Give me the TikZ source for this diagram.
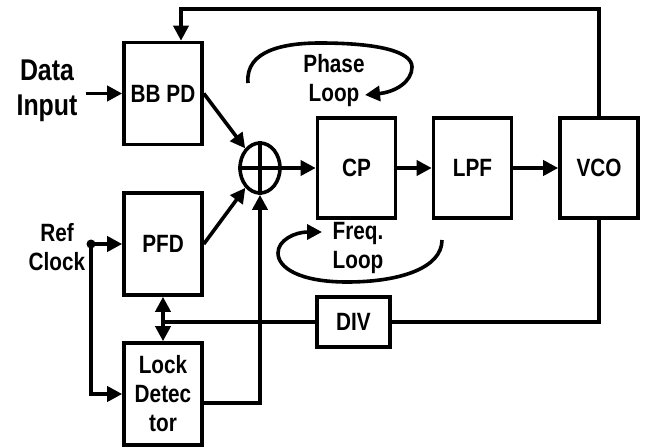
\documentclass[tikz,border=0pt]{standalone}
\usepackage{fontspec}
\setmainfont{Liberation Sans}[FakeStretch=0.83]
\usetikzlibrary{arrows.meta,positioning,shapes.geometric}

\begin{document}
\begin{tikzpicture}[x=1pt,y=-1pt,line width=3.6pt,
  every node/.style={font=\bfseries\fontsize{25}{29}\selectfont,align=center},
  blk/.style={draw,rectangle,minimum width=78pt,minimum height=102pt,inner sep=0pt},
  arr/.style={-{Triangle[length=15pt,width=15pt]}}]
  \useasboundingbox (0,0) rectangle (646,447);
  % blocks
  \node[blk] (bbpd) at (163,93.5) {BB PD};
  \node[blk] (pfd) at (163,244) {PFD};
  \node[blk] (lock) at (163,394) {Lock\\Detec\\tor};
  \node[blk,minimum height=100pt] (cp) at (356.5,168) {CP};
  \node[blk,minimum height=100pt] (lpf) at (472.5,168) {LPF};
  \node[blk,minimum height=100pt] (vco) at (599,168) {VCO};
  \node[blk,minimum width=73pt,minimum height=50pt] (div) at (353.5,322) {DIV};
  \node[draw,ellipse,minimum width=40pt,minimum height=50pt,inner sep=0pt] (sum) at (260,168) {};
  \draw (sum.north) -- (sum.south);
  \draw (sum.west) -- (sum.east);
  % inputs
  \node[font=\bfseries\fontsize{30}{35}\selectfont] (data) at (47,91) {Data\\Input};
  \node (ref) at (57,247) {Ref\\Clock};
  \coordinate (refdot) at (91,244);
  \fill (refdot) circle (4.5pt);
  \draw[arr] ([xshift=3pt]data.east |- bbpd.west) -- (bbpd.west);
  \draw[arr] (refdot) -- (pfd.west);
  \draw[arr] (refdot) |- (lock.west);
  % forward path
  \draw[arr] (bbpd.east) -- (sum);
  \draw[arr] (pfd.east) -- (sum);
  \draw[arr] ([yshift=-9pt]lock.east) -| (sum.south);
  \draw[arr] (sum) -- (cp);
  \draw[arr] (cp) -- (lpf);
  \draw[arr] (lpf) -- (vco);
  % feedback
  \draw[arr] (vco.north) -- ++(0,-107) -| ([xshift=18pt]bbpd.north);
  \coordinate (jn) at (pfd.south |- div.west);
  \draw (div.east) -| (vco.south);
  \draw (div.west) -- (jn);
  \draw[arr] (jn) -- (pfd.south);
  \draw[arr] (jn) -- (lock.north);
  % loops
  \node (ph) at (334,81) {Phase\\Loop};
  \node (fq) at (358,248) {Freq.\\Loop};
  \draw[arr] (248,83) .. controls (245,50) and (285,43) .. (320,43)
    .. controls (380,43) and (412,52) .. (412,67)
    .. controls (412,82) and (395,92) .. (365,95);
  \draw[arr] (442,240) .. controls (442,268) and (400,282) .. (347,282)
    .. controls (300,282) and (278,268) .. (278,253)
    .. controls (278,240) and (295,232) .. (322,232);
\end{tikzpicture}
\end{document}
